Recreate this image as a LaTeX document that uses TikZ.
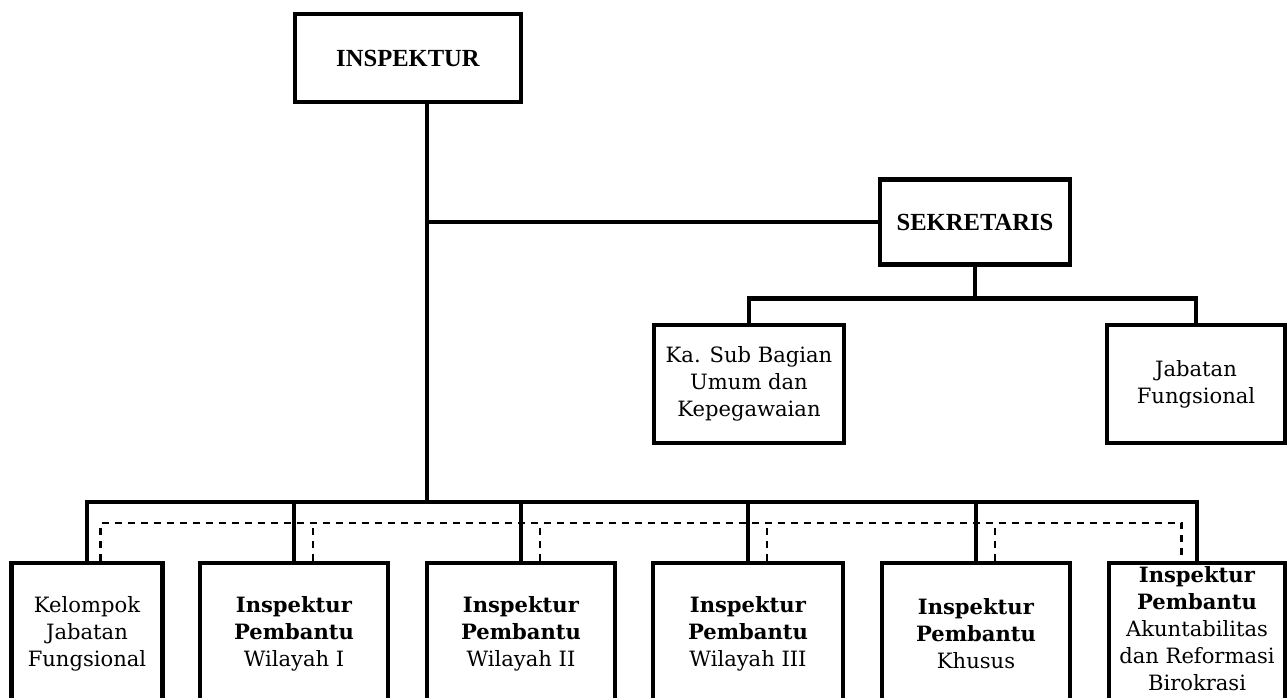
\documentclass[tikz,border=0pt]{standalone}
\usepackage{fontspec}
\setmainfont{DejaVu Serif}
\newfontfamily\headfont{Liberation Serif}
\usetikzlibrary{positioning}

\begin{document}
\begin{tikzpicture}[x=0.02cm,y=-0.02cm]
\tikzset{
  unit/.style={draw, line width=2.3pt, align=center, inner sep=0pt,
    font=\fontsize{12}{15.3}\selectfont},
  topunit/.style={unit, minimum width=3.8cm, minimum height=1.7cm,
    font=\headfont\fontsize{14}{16}\selectfont\bfseries},
  midunit/.style={unit, minimum width=3.8cm, minimum height=2.36cm},
  lowunit/.style={unit, minimum width=3.76cm, minimum height=2.84cm},
  link/.style={line width=2.3pt},
  dashlink/.style={line width=1.2pt, dash pattern=on 4pt off 3.4pt},
}
\useasboundingbox (0,0) rectangle (1287,697);
\clip (0,0) rectangle (1287,697);
\node[topunit, minimum width=4.52cm, minimum height=1.76cm] (insp) at (408,58) {INSPEKTUR};
\node[topunit] (sek) at (975,222) {SEKRETARIS};
\node[midunit] (ksub) at (749,384) {Ka. Sub Bagian\\Umum dan\\Kepegawaian};
\node[midunit, minimum width=3.56cm] (jf) at (1196,384) {Jabatan\\Fungsional};
\node[lowunit, minimum width=3.02cm] (kjf) at (87,634) {Kelompok\\Jabatan\\Fungsional};
\node[lowunit] (ipw1) at (294,634) {\textbf{Inspektur}\\\textbf{Pembantu}\\Wilayah I};
\node[lowunit] (ipw2) at (521,634) {\textbf{Inspektur}\\\textbf{Pembantu}\\Wilayah II};
\node[lowunit, minimum width=3.8cm] (ipw3) at (748,634) {\textbf{Inspektur}\\\textbf{Pembantu}\\Wilayah III};
\node[lowunit] (ipk) at (976,634) {\textbf{Inspektur}\\\textbf{Pembantu}\\Khusus};
\node[lowunit, minimum width=3.54cm, text depth=6pt] (ipar) at (1197,634) {\textbf{Inspektur}\\\textbf{Pembantu}\\Akuntabilitas\\dan Reformasi\\Birokrasi};
\coordinate (trunk) at (427,502);
\coordinate (dbus) at (0,523);
\draw[link] (insp.south -| trunk) -- (trunk);
\draw[link] (trunk |- sek.west) -- (sek.west);
\draw[link] (sek.south) -- ++(0,32) coordinate (sbus);
\draw[link] (ksub.north) |- (sbus) -| (jf.north);
\draw[link] (kjf.north) |- (trunk) -| (ipar.north);
\foreach \n in {ipw1,ipw2,ipw3,ipk}
  \draw[link] (\n.north) -- (\n.north |- trunk);
\path ([xshift=0.27cm]kjf.north) coordinate (d1)
      ([xshift=-0.31cm]ipar.north) coordinate (d6);
\draw[dashlink] (d1) |- (d1 |- dbus) -- (d6 |- dbus) -- (d6);
\foreach \n in {ipw1,ipw2,ipw3,ipk} {
  \path ([xshift=0.38cm]\n.north) coordinate (dn);
  \draw[dashlink] (dn) -- (dn |- dbus);
}
\end{tikzpicture}
\end{document}
